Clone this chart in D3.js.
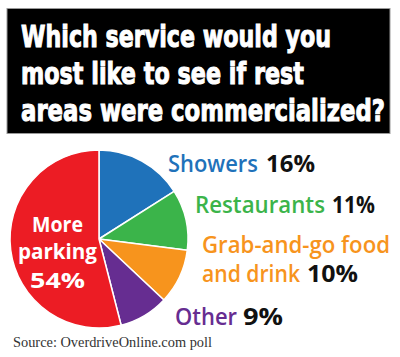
<!DOCTYPE html>
<html><head><meta charset="utf-8">
<script src="https://cdn.jsdelivr.net/npm/d3@7"></script>
<style>html,body{margin:0;padding:0;background:#fff;}svg{display:block;}</style>
</head><body>
<script>
const titleLines = ["Which service would you", "most like to see if rest", "areas were commercialized?"];
const categories = ["Showers", "Restaurants", "Grab-and-go food and drink", "Other", "More parking"];
const values = [16, 11, 10, 9, 54];
const colors = ["#1f72ba", "#3bb44a", "#f7941d", "#662d91", "#ec1c24"];
const source = "Source: OverdriveOnline.com poll";

const W = 400, H = 357;
const svg = d3.select("body").append("svg").attr("width", W).attr("height", H);

// Title box
svg.append("rect").attr("x", 7).attr("y", 8.5).attr("width", 383).attr("height", 125)
  .attr("fill", "#000").attr("stroke", "#999").attr("stroke-width", 1);
const titleLayout = [{y: 47, w: 310}, {y: 84, w: 283}, {y: 121, w: 364}];
titleLines.forEach((t, i) => {
  svg.append("text").attr("x", 21).attr("y", titleLayout[i].y)
    .attr("fill", "#fff").attr("stroke", "#fff").attr("stroke-width", 1.1)
    .attr("font-family", "'DejaVu Sans', sans-serif")
    .attr("font-weight", "bold").attr("font-size", 31)
    .attr("textLength", titleLayout[i].w).attr("lengthAdjust", "spacingAndGlyphs")
    .text(t);
});

// Pie
const cx = 99, cy = 239, R = 89;
const pie = d3.pie().sort(null).value(d => d.v);
const arc = d3.arc().innerRadius(0).outerRadius(R);
const data = categories.map((c, i) => ({c, v: values[i], col: colors[i]}));
const g = svg.append("g").attr("transform", `translate(${cx},${cy})`);
g.selectAll("path").data(pie(data)).join("path")
  .attr("d", arc).attr("fill", d => d.data.col)
  .attr("stroke", "#fff").attr("stroke-width", 1.5).attr("stroke-linejoin", "round");

const labFont = "'Open Sans', 'DejaVu Sans Condensed', sans-serif";
// Inner label for the big slice
const inner = [
  {t: "More", x: 32, y: 232, w: 51},
  {t: "parking", x: 18, y: 259, w: 79},
  {t: values[4] + "%", x: 30, y: 288, w: 55}
];
inner.forEach(l => {
  svg.append("text").attr("x", l.x).attr("y", l.y).attr("fill", "#fff")
    .attr("font-family", labFont).attr("font-weight", 700).attr("font-size", 22)
    .attr("textLength", l.w).attr("lengthAdjust", "spacingAndGlyphs").text(l.t);
});

// Outer labels
const outer = [
  {i: 0, lines: [{t: categories[0], x: 168, y: 172, w: 90, pct: {x: 266, w: 49}}]},
  {i: 1, lines: [{t: categories[1], x: 195, y: 213, w: 130, pct: {x: 332, w: 43}}]},
  {i: 2, lines: [{t: "Grab-and-go food", x: 202, y: 253, w: 188}, {t: "and drink", x: 202, y: 282, w: 98, pct: {x: 307, w: 51}}]},
  {i: 3, lines: [{t: categories[3], x: 175, y: 325, w: 62, pct: {x: 243, w: 40}}]}
];
outer.forEach(o => {
  o.lines.forEach(l => {
    svg.append("text").attr("x", l.x).attr("y", l.y).attr("fill", colors[o.i])
      .attr("font-family", labFont).attr("font-weight", 600).attr("font-size", 24)
      .attr("textLength", l.w).attr("lengthAdjust", "spacingAndGlyphs").text(l.t);
    if (l.pct) {
      svg.append("text").attr("x", l.pct.x).attr("y", l.y).attr("fill", "#111")
        .attr("font-family", labFont).attr("font-weight", 700).attr("font-size", 24)
        .attr("textLength", l.pct.w).attr("lengthAdjust", "spacingAndGlyphs").text(values[o.i] + "%");
    }
  });
});

svg.append("text").attr("x", 13).attr("y", 347).attr("fill", "#333")
  .attr("font-family", "'Liberation Serif', serif").attr("font-size", 14.5)
  .attr("textLength", 199).attr("lengthAdjust", "spacingAndGlyphs").text(source);
</script>
</body></html>
